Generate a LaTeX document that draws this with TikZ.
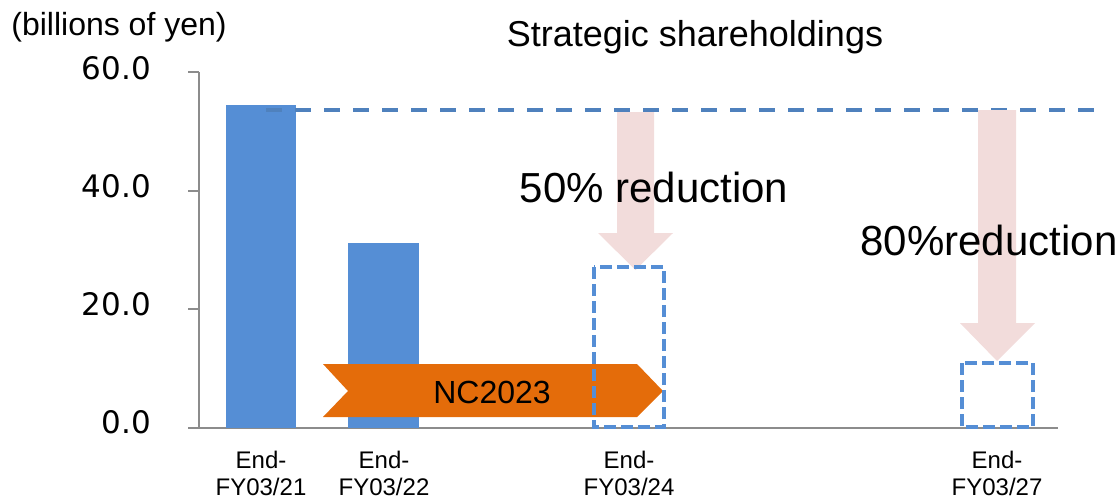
\documentclass[tikz,border=0pt]{standalone}
\usepackage{fontspec}
\setmainfont{Liberation Sans}
\newfontfamily\tickfont{DejaVu Sans}
\definecolor{barblue}{HTML}{558ED5}
\definecolor{lineblue}{HTML}{4F81BD}
\definecolor{pinkarrow}{HTML}{F2DCDB}
\definecolor{ncorange}{HTML}{E46C0A}
\definecolor{axisgray}{HTML}{8C8C8C}
\begin{document}
\begin{tikzpicture}[x=1pt,y=-1pt,
  axisline/.style={draw=axisgray,line width=2pt},
  bar/.style={fill=barblue,draw=none},
  planbox/.style={draw=barblue,line width=3.5pt,dash pattern=on 12pt off 5pt},
  reduce/.style={fill=pinkarrow,draw=none},
  ticklab/.style={anchor=base east,inner sep=0pt,font=\tickfont\fontsize{31}{36}\selectfont},
  catlab/.style={anchor=base,inner sep=0pt,font=\fontsize{24}{30}\selectfont},
  biglab/.style={anchor=base,inner sep=0pt,font=\fontsize{42}{48}\selectfont}]
\useasboundingbox (0,0) rectangle (1120,501);
% axes
\draw[axisline] (199,72) -- (199,428);
\draw[axisline] (188,428) -- (1058,428);
\foreach \yy in {72,190.7,309.3}{\draw[axisline] (188,\yy) -- (199,\yy);}
% bars
\fill[bar] (226,105) rectangle (296,428);
\fill[bar] (348,243) rectangle (419,428);
% target line
\draw[draw=lineblue,line width=4pt,dash pattern=on 16pt off 13pt] (266,110) -- (1100,110);
% reduction arrows
\fill[reduce] (617,112) -- (654,112) -- (654,233) -- (673,233) -- (635.5,270) -- (598,233) -- (617,233) -- cycle;
\fill[reduce] (978,110) -- (1016,110) -- (1016,323) -- (1035,323) -- (997,361) -- (960,323) -- (978,323) -- cycle;
% NC2023 chevron
\fill[ncorange] (323,364) -- (637,364) -- (663,391) -- (637,417) -- (323,417) -- (348,391) -- cycle;
\node[anchor=base,inner sep=0pt,font=\fontsize{32}{36}\selectfont] (nc) at (492,403) {NC2023};
% planned boxes
\draw[planbox] (594,267) rectangle (664,427);
\draw[planbox] (962,363) rectangle (1033,427);
% texts
\node[anchor=base,inner sep=0pt,font=\fontsize{32}{36}\selectfont] (unit) at (119,35) {(billions of yen)};
\node[anchor=base,inner sep=0pt,font=\fontsize{36}{40}\selectfont] (title) at (695,46) {Strategic shareholdings};
\node[ticklab] (t60) at (151,79) {60.0};
\node[ticklab] (t40) at (151,197) {40.0};
\node[ticklab] (t20) at (151,315.5) {20.0};
\node[ticklab] (t0) at (151,433.5) {0.0};
\node[biglab] (r50) at (654,202) {50\% reduction};
\node[biglab] (r80) at (989,255) {80\%reduction};
\foreach \cx/\lab [count=\i] in {261/21,384/22,629/24,997/27}{
  \node[catlab] (e\i) at (\cx,468) {End-};
  \node[catlab] (f\i) at (\cx,495) {FY03/\lab};
}
\end{tikzpicture}
\end{document}
